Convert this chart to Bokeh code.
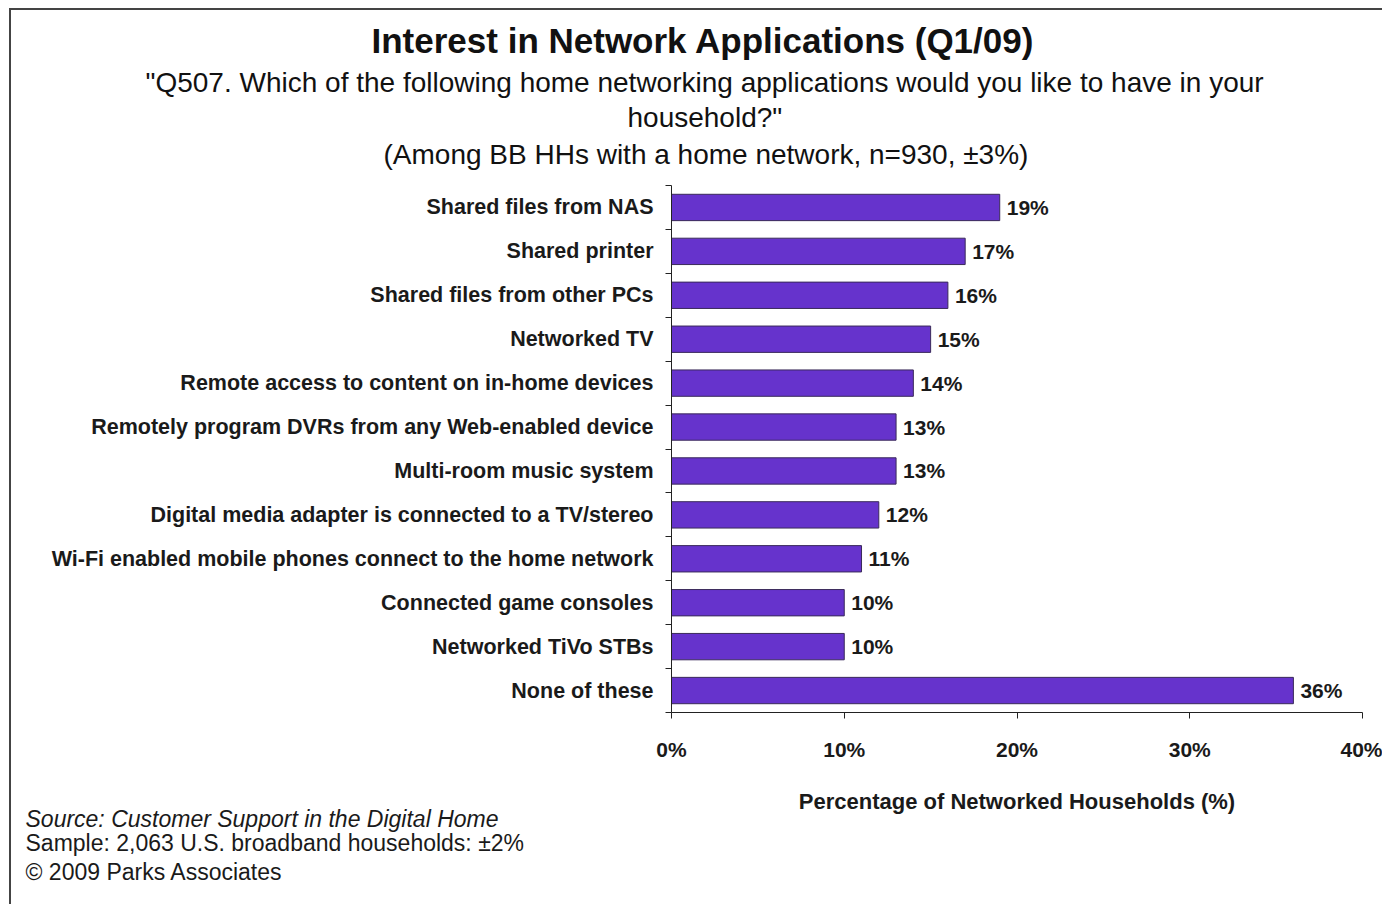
from bokeh.plotting import figure
from bokeh.models import (Range1d, FixedTicker, PrintfTickFormatter, Title,
                          ColumnDataSource)
from bokeh.embed import file_html
from bokeh.resources import INLINE
from bokeh.core.properties import value

# ---- data ----
categories = [
    "Shared files from NAS",
    "Shared printer",
    "Shared files from other PCs",
    "Networked TV",
    "Remote access to content on in-home devices",
    "Remotely program DVRs from any Web-enabled device",
    "Multi-room music system",
    "Digital media adapter is connected to a TV/stereo",
    "Wi-Fi enabled mobile phones connect to the home network",
    "Connected game consoles",
    "Networked TiVo STBs",
    "None of these",
]
values = [19, 17, 16, 15, 14, 13, 13, 12, 11, 10, 10, 36]
x_ticks = [0, 10, 20, 30, 40]

title_text = "Interest in Network Applications (Q1/09)"
subtitle_lines = [
    "\"Q507. Which of the following home networking applications would you like to have in your",
    "household?\"",
    "(Among BB HHs with a home network, n=930, \u00b13%)",
]
footer_lines = [
    "Source:  Customer Support in the Digital Home",
    "Sample: 2,063 U.S. broadband households: \u00b12%",
    "\u00a9 2009 Parks Associates",
]
x_label = "Percentage of Networked Households (%)"

FONT = "Liberation Sans"
n = len(categories)
ypos = [n - i - 0.5 for i in range(n)]

src = ColumnDataSource(dict(
    y=ypos,
    v=values,
    lbl=[f"{v}%" for v in values],
))

p = figure(frame_width=691, frame_height=527, output_backend="svg", toolbar_location=None,
           x_range=Range1d(0, 40), y_range=Range1d(0, n),
           min_border_left=660, min_border_right=20,
           min_border_top=175, min_border_bottom=192)
p.outline_line_color = None
p.grid.grid_line_color = None
p.background_fill_color = "white"
p.border_fill_color = "white"

p.hbar(y="y", right="v", left=0, height=0.6, source=src,
       fill_color="#6633CC", line_color="#3a2a5a", line_width=1)
p.text(x="v", y="y", text="lbl", source=src, x_offset=7,
       text_font=value(FONT), text_font_style="bold", text_font_size="21px",
       text_baseline="middle", text_align="left", text_color="#1a1a1a")

# x axis
xa = p.xaxis[0]
xa.ticker = FixedTicker(ticks=x_ticks, minor_ticks=[])
xa.formatter = PrintfTickFormatter(format="%d%%")
xa.major_tick_in = 0
xa.major_tick_out = 6
xa.minor_tick_out = 0
xa.minor_tick_in = 0
xa.axis_line_color = "#222222"
xa.major_tick_line_color = "#222222"
xa.major_label_text_font = FONT
xa.major_label_text_font_style = "bold"
xa.major_label_text_font_size = "21px"
xa.major_label_text_color = "#1a1a1a"
xa.major_label_standoff = 19
xa.axis_label = x_label
xa.axis_label_text_font = FONT
xa.axis_label_text_font_style = "bold"
xa.axis_label_text_font_size = "22px"
xa.axis_label_text_color = "#1a1a1a"
xa.axis_label_standoff = 25

# y axis: labels at category centres, ticks at boundaries
ya = p.yaxis[0]
ya.ticker = FixedTicker(ticks=ypos, minor_ticks=list(range(n + 1)))
ya.major_label_overrides = {y: c for y, c in zip(ypos, categories)}
ya.major_tick_in = 0
ya.major_tick_out = 0
ya.minor_tick_in = 0
ya.minor_tick_out = 6
ya.axis_line_color = "#222222"
ya.minor_tick_line_color = "#222222"
ya.major_label_text_font = FONT
ya.major_label_text_font_style = "bold"
ya.major_label_text_font_size = "21.5px"
ya.major_label_text_color = "#1a1a1a"
ya.major_label_standoff = 12


def set_standoff(t, so):
    try:
        t.standoff = so
    except Exception:
        t.standoff = 0


# titles above, nearest to the frame first (left-aligned with offsets so they centre on the page)
above = [
    (subtitle_lines[2], "28px", "normal", 32, -288),
    (subtitle_lines[1], "28px", "normal", -24, -44),
    (subtitle_lines[0], "28px", "normal", 28, -526),
    (title_text, "35px", "bold", -18, -300),
]
for t, fs, st, so, off in above:
    tt = Title(text=t, align="left", offset=off,
               text_font=FONT, text_font_size=fs, text_font_style=st,
               text_color="#111111")
    set_standoff(tt, so)
    p.add_layout(tt, "above")

# footer below the x axis
footer_standoffs = [-26, 18, -16]
for i, (t, so) in enumerate(zip(footer_lines, footer_standoffs)):
    tt = Title(text=t, align="left", offset=-646,
               text_font=FONT, text_font_size="23px",
               text_font_style="italic" if i == 0 else "normal",
               text_color="#1a1a1a")
    set_standoff(tt, so)
    p.add_layout(tt, "below")

p.styles = {"margin-left": "9px", "margin-top": "8px",
            "border-top": "2px solid #444444", "border-left": "2px solid #444444"}

open("out.html", "w").write(file_html(p, INLINE))
